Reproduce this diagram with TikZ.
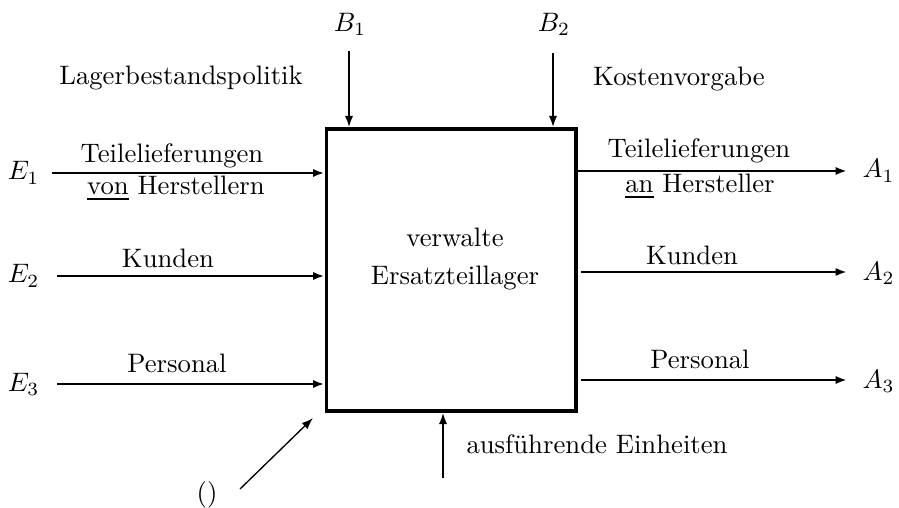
\documentclass[tikz,border=0pt]{standalone}
\usetikzlibrary{arrows.meta}
\begin{document}
\begin{tikzpicture}[x=0.3745pt,y=-0.3745pt,
  lbl/.style={inner sep=0pt,anchor=base},
  tip/.style={-{Latex[length=4.3pt,width=3.1pt]}},
  flow/.style={tip,line width=0.95pt},
  ctrl/.style={tip,line width=0.8pt},
  thin/.style={tip,line width=0.5pt}]
\useasboundingbox (0,0) rectangle (899,508);

% activity box
\node[draw,line width=1.15pt,minimum width=93.6pt,minimum height=105.6pt,inner sep=0pt] (box) at (451,270) {};
\node[lbl] (t1) at (455,247) {verwalte};
\node[lbl] (t2) at (455,285) {Ersatzteillager};

% controls from above
\node[lbl] (B1) at (350,32) {$B_1$};
\node[lbl] (B2) at (554,32) {$B_2$};
\coordinate (b1) at (349,51);
\coordinate (b2) at (553,53);
\draw[ctrl] (b1) -- (b1 |- box.north);
\draw[ctrl] (b2) -- (b2 |- box.north);
\node[lbl] (pol) at (181,85) {Lagerbestandspolitik};
\node[lbl] (kos) at (679,86) {Kostenvorgabe};

% inputs
\node[lbl,anchor=base east] (E1) at (40,180) {$E_1$};
\node[lbl,anchor=base east] (E2) at (40,283) {$E_2$};
\node[lbl,anchor=base east] (E3) at (40,391) {$E_3$};
\coordinate (e1) at (52,173);
\coordinate (e2) at (57,276);
\coordinate (e3) at (57,384);
\draw[flow] (e1) -- (e1 -| box.west);
\draw[flow] (e2) -- (e2 -| box.west);
\draw[flow] (e3) -- (e3 -| box.west);
\node[lbl] (i1a) at (172,163) {Teilelieferungen};
\node[lbl] (i1b) at (176,195) {\underline{von} Herstellern};
\node[lbl] (i2) at (168,268) {Kunden};
\node[lbl] (i3) at (177,372) {Personal};

% outputs
\node[lbl,anchor=base west] (A1) at (862,178) {$A_1$};
\node[lbl,anchor=base west] (A2) at (862,280) {$A_2$};
\node[lbl,anchor=base west] (A3) at (862,388) {$A_3$};
\coordinate (a1) at (847,171);
\coordinate (a2s) at (581,272);
\coordinate (a2) at (847,272);
\coordinate (a3s) at (581,380);
\coordinate (a3) at (847,380);
\draw[flow] (a1 -| box.east) -- (a1);
\draw[flow] (a2s) -- (a2);
\draw[flow] (a3s) -- (a3);
\node[lbl] (o1a) at (699,158) {Teilelieferungen};
\node[lbl] (o1b) at (700,193) {\underline{an} Hersteller};
\node[lbl] (o2) at (692,265) {Kunden};
\node[lbl] (o3) at (700,368) {Personal};

% mechanism from below
\coordinate (m) at (443,478);
\draw[ctrl] (m) -- (m |- box.south);
\node[lbl] (mech) at (597,453) {ausführende Einheiten};

% call arrow
\node[lbl] (call) at (207,501) {()};
\coordinate (c0) at (240,489);
\coordinate (c1) at (313,418);
\draw[thin] (c0) -- (c1);
\end{tikzpicture}
\end{document}
